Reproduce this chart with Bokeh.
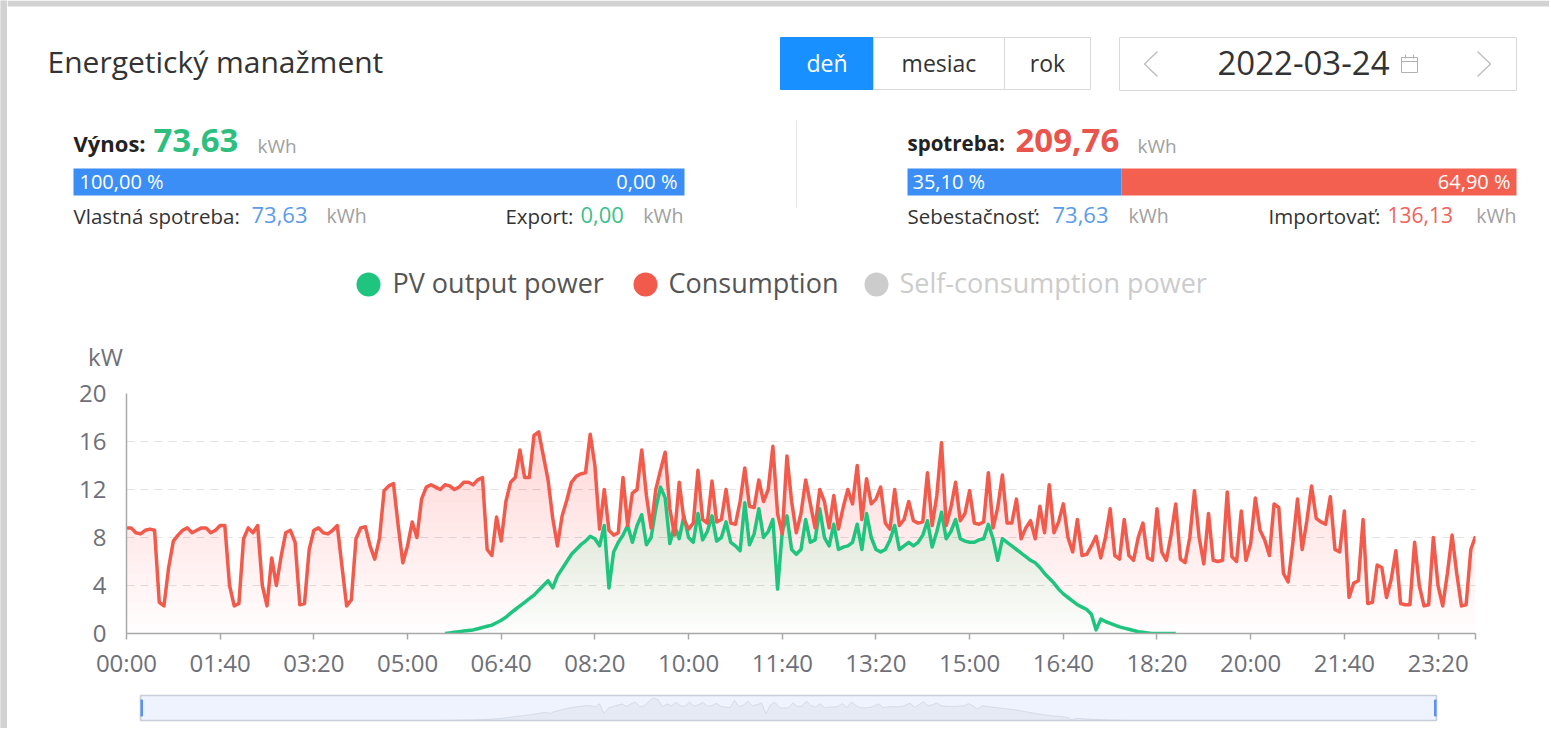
import numpy as np
from bokeh.plotting import figure
from bokeh.layouts import column, row
from bokeh.models import Range1d, FixedTicker
from bokeh.embed import file_html
from bokeh.resources import INLINE
from bokeh.core.properties import value

# ---------------- data ----------------
step_min = 5
minutes = list(range(0, 1441, step_min))  # 00:00 .. 24:00, 5-minute samples

consumption = [
    8.8, 8.8, 8.4, 8.3, 8.6, 8.7, 8.6, 2.6, 2.3, 5.5,
    7.7, 8.2, 8.6, 8.8, 8.4, 8.6, 8.8, 8.8, 8.4, 8.6,
    9.0, 9.0, 4.0, 2.3, 2.5, 7.9, 8.8, 8.4, 9.0, 4.0,
    2.3, 6.3, 4.0, 6.4, 8.4, 8.6, 7.6, 2.4, 2.5, 7.0,
    8.6, 8.8, 8.4, 8.3, 8.6, 9.0, 5.6, 2.3, 2.8, 7.9,
    8.8, 8.9, 7.3, 6.2, 7.9, 11.9, 12.3, 12.5, 9.0, 5.9,
    7.3, 9.3, 8.0, 11.2, 12.2, 12.4, 12.2, 12.0, 12.4, 12.3,
    12.0, 12.2, 12.6, 12.6, 12.4, 12.8, 13.0, 7.0, 6.5, 9.7,
    7.7, 11.0, 12.6, 13.0, 15.3, 13.0, 13.0, 16.5, 16.8, 14.8,
    12.8, 9.6, 7.3, 9.8, 11.1, 12.6, 13.1, 13.3, 13.4, 16.6,
    14.0, 8.7, 12.0, 8.6, 8.2, 8.4, 13.0, 9.0, 11.7, 12.0,
    15.3, 11.5, 8.8, 12.0, 13.6, 15.1, 10.4, 8.2, 12.6, 9.5,
    8.7, 9.2, 13.6, 9.5, 9.2, 12.7, 9.3, 9.5, 12.0, 9.2,
    9.1, 11.0, 13.8, 10.6, 10.5, 12.8, 11.0, 12.0, 15.6, 10.0,
    8.3, 14.8, 11.0, 8.4, 10.0, 12.8, 10.8, 8.8, 12.0, 11.0,
    8.8, 11.5, 8.7, 10.5, 12.0, 10.8, 14.0, 9.5, 12.9, 10.8,
    11.2, 12.2, 9.2, 8.7, 12.0, 9.0, 9.5, 11.0, 9.4, 9.2,
    9.3, 13.4, 9.0, 11.5, 15.9, 9.0, 10.5, 12.6, 9.4, 10.0,
    11.9, 9.2, 9.1, 9.3, 13.4, 8.8, 10.5, 13.2, 9.2, 9.2,
    11.2, 7.9, 8.8, 9.4, 7.9, 10.6, 8.4, 12.4, 8.4, 9.3,
    10.8, 8.0, 6.8, 9.5, 6.5, 6.6, 7.3, 8.1, 6.3, 8.0,
    10.4, 6.5, 6.2, 9.5, 6.5, 6.1, 8.0, 9.2, 6.3, 6.1,
    10.4, 6.8, 6.1, 8.2, 10.8, 6.2, 5.9, 8.0, 11.9, 8.0,
    5.8, 10.0, 6.1, 6.0, 6.1, 11.8, 6.4, 6.0, 10.2, 6.1,
    7.5, 11.3, 8.6, 7.8, 6.5, 10.8, 10.5, 5.0, 4.3, 7.5,
    11.2, 7.0, 9.4, 12.3, 9.6, 9.3, 9.1, 11.4, 7.0, 6.8,
    10.2, 3.0, 4.2, 4.4, 9.5, 2.5, 2.6, 5.7, 5.5, 3.0,
    4.5, 6.9, 2.5, 2.4, 2.4, 7.6, 4.0, 2.3, 2.4, 8.0,
    4.0, 2.3, 5.0, 8.2, 5.0, 2.3, 2.4, 7.0, 8.1,
]

pv_first_index = 68          # PV series starts at 05:40
pv_output = [
    0.0, 0.05, 0.1, 0.15, 0.2, 0.25, 0.3, 0.4, 0.5, 0.6,
    0.7, 0.9, 1.1, 1.35, 1.7, 2.0, 2.3, 2.6, 2.9, 3.2,
    3.6, 4.0, 4.4, 3.8, 4.8, 5.4, 6.0, 6.6, 7.0, 7.4,
    7.7, 8.1, 7.9, 7.3, 9.0, 3.8, 6.8, 7.6, 8.2, 9.0,
    7.6, 9.0, 9.9, 7.4, 8.0, 10.4, 12.2, 11.3, 7.5, 9.0,
    7.9, 9.8, 8.0, 7.6, 10.0, 7.8, 8.5, 9.8, 7.7, 8.0,
    9.3, 7.6, 7.3, 6.9, 10.9, 7.4, 8.3, 10.4, 8.0, 8.5,
    9.5, 3.7, 8.5, 9.8, 7.0, 6.6, 7.0, 9.5, 7.6, 7.8,
    10.4, 8.0, 7.3, 9.1, 7.0, 7.2, 7.3, 7.6, 9.1, 7.0,
    10.0, 8.0, 7.0, 6.8, 7.0, 7.8, 9.0, 7.0, 7.3, 7.6,
    7.3, 7.6, 8.2, 9.4, 7.2, 8.5, 10.1, 7.9, 8.5, 9.5,
    7.9, 7.7, 7.6, 7.6, 7.8, 7.9, 9.1, 7.9, 6.1, 7.9,
    7.6, 7.3, 7.0, 6.7, 6.4, 6.1, 5.9, 5.5, 5.0, 4.6,
    4.2, 3.7, 3.3, 3.0, 2.7, 2.4, 2.2, 2.0, 1.6, 0.3,
    1.2, 1.0, 0.85, 0.7, 0.55, 0.45, 0.35, 0.25, 0.15, 0.1,
    0.05, 0.0, 0.0, 0.0, 0.0, 0.0, 0.0,
]
pv_minutes = minutes[pv_first_index:pv_first_index + len(pv_output)]

x_tick_values = [0, 100, 200, 300, 400, 500, 600, 700, 800, 900, 1000, 1100, 1200, 1300, 1400]
x_tick_labels = ["00:00", "01:40", "03:20", "05:00", "06:40", "08:20", "10:00", "11:40",
                 "13:20", "15:00", "16:40", "18:20", "20:00", "21:40", "23:20"]
y_tick_values = [0, 4, 8, 12, 16, 20]

series_names = ["PV output power", "Consumption", "Self-consumption power"]
series_colors = ["#1fc57f", "#f25a4c", "#cccccc"]
view_buttons = ["deň", "mesiac", "rok"]
selected_date = "2022-03-24"

yield_kwh = 73.63
yield_self_kwh = 73.63
yield_export_kwh = 0.00
cons_kwh = 209.76
cons_self_kwh = 73.63
cons_import_kwh = 136.13

def fmt(v):
    return f"{v:.2f}".replace(".", ",")

FONT = "Open Sans"
RED = "#f25a4c"
GREEN = "#1fc57f"
BLUE_BAR = "#3a8ef6"
FRAME_GRAY = "#d2d2d2"

PAGE_W, PAGE_H = 1549, 728
GUTTER = 7                  # grey strip at the left edge of the page
W = PAGE_W - GUTTER
HDR_H = 375
CH_H = 313
SL_H = PAGE_H - HDR_H - CH_H

# ---------------- left grey strip ----------------
gutter = figure(width=GUTTER, height=PAGE_H, x_range=Range1d(0, 1), y_range=Range1d(0, 1),
                toolbar_location=None, output_backend="svg", min_border=0,
                x_axis_location=None, y_axis_location=None, frame_align=False)
gutter.grid.visible = False
gutter.outline_line_color = None
gutter.background_fill_color = FRAME_GRAY
gutter.border_fill_color = FRAME_GRAY
gutter.quad(left=[0], right=[1], top=[1], bottom=[0], fill_color=FRAME_GRAY, line_color=None)

# ---------------- header figure (page pixel coordinates) ----------------
hdr = figure(width=W, height=HDR_H, x_range=Range1d(GUTTER, PAGE_W), y_range=Range1d(HDR_H, 0),
             toolbar_location=None, output_backend="svg", min_border=0,
             x_axis_location=None, y_axis_location=None, frame_align=False)
hdr.grid.visible = False
hdr.outline_line_color = None
hdr.background_fill_color = "white"
hdr.border_fill_color = "white"
hdr.quad(left=[GUTTER], right=[PAGE_W], top=[0], bottom=[6], fill_color=FRAME_GRAY, line_color=None)

def txt(fig, x, y, s, size, color, align="left", bold=False):
    fig.text(x=[x], y=[y], text=[s], text_font=value(FONT), text_font_size=f"{size}px",
             text_color=color, text_align=align, text_baseline="middle",
             text_font_style="bold" if bold else "normal")

txt(hdr, 47, 61, "Energetický manažment", 30, "#333333")

# view buttons
btn_edges = [780, 873, 1004, 1090]
for k, name in enumerate(view_buttons):
    sel = (k == 0)
    hdr.quad(left=[btn_edges[k]], right=[btn_edges[k + 1]], top=[37], bottom=[89],
             fill_color="#1890ff" if sel else "white",
             line_color="#1890ff" if sel else "#d9d9d9", line_width=1)
    txt(hdr, (btn_edges[k] + btn_edges[k + 1]) / 2, 62, name, 23,
        "white" if sel else "#333333", align="center")

# date picker
hdr.quad(left=[1119], right=[1516], top=[37], bottom=[90], fill_color="white",
         line_color="#d9d9d9", line_width=1)
hdr.multi_line(xs=[[1157, 1144, 1157], [1477, 1490, 1477]], ys=[[51, 63.5, 76], [51, 63.5, 76]],
               line_color="#c0c0c0", line_width=1.5)
txt(hdr, 1303, 62, selected_date, 33, "#333333", align="center")
hdr.quad(left=[1401], right=[1417], top=[57], bottom=[72], fill_color=None,
         line_color="#b0b0b0", line_width=1)
hdr.segment(x0=[1401, 1405, 1413], y0=[61, 54, 54], x1=[1417, 1405, 1413], y1=[61, 58, 58],
            line_color="#b0b0b0", line_width=1)

# separator
hdr.segment(x0=[796], y0=[120], x1=[796], y1=[207], line_color="#e6e6e6", line_width=1)

# left block: yield
txt(hdr, 73, 142, "Výnos:", 22, "#222222", bold=True)
txt(hdr, 153, 140, fmt(yield_kwh), 33, "#2ebf7e", bold=True)
txt(hdr, 257, 145, "kWh", 19, "#a0a0a0")
L0, L1 = 73, 684
frac_self = yield_self_kwh / yield_kwh
hdr.quad(left=[L0], right=[L0 + (L1 - L0) * frac_self], top=[168], bottom=[195],
         fill_color=BLUE_BAR, line_color=None)
txt(hdr, 79, 181, fmt(frac_self * 100) + " %", 20, "white")
txt(hdr, 677, 181, fmt((1 - frac_self) * 100) + " %", 20, "white", align="right")
txt(hdr, 73, 215, "Vlastná spotreba:", 20.5, "#333333")
txt(hdr, 251, 214, fmt(yield_self_kwh), 22, "#5b9bea")
txt(hdr, 326, 215, "kWh", 19.5, "#a0a0a0")
txt(hdr, 573, 215, "Export:", 20.5, "#333333", align="right")
txt(hdr, 580, 214, fmt(yield_export_kwh), 22, "#3cc08a")
txt(hdr, 683, 215, "kWh", 19.5, "#a0a0a0", align="right")

# right block: consumption
txt(hdr, 907, 142, "spotreba:", 20.5, "#222222", bold=True)
txt(hdr, 1015, 140, fmt(cons_kwh), 33, "#e9544c", bold=True)
txt(hdr, 1137, 145, "kWh", 19, "#a0a0a0")
R0, R1 = 907, 1516
frac_c = cons_self_kwh / cons_kwh
split = R0 + (R1 - R0) * frac_c
hdr.quad(left=[R0, split], right=[split, R1], top=[168, 168], bottom=[195, 195],
         fill_color=[BLUE_BAR, "#f4604f"], line_color=None)
txt(hdr, 912, 181, fmt(frac_c * 100) + " %", 20, "white")
txt(hdr, 1510, 181, fmt((1 - frac_c) * 100) + " %", 20, "white", align="right")
txt(hdr, 907, 215, "Sebestačnosť:", 20.5, "#333333")
txt(hdr, 1052, 214, fmt(cons_self_kwh), 22, "#5b9bea")
txt(hdr, 1128, 215, "kWh", 19.5, "#a0a0a0")
txt(hdr, 1380, 215, "Importovať:", 20.5, "#333333", align="right")
txt(hdr, 1387, 214, fmt(cons_import_kwh), 21, "#f0645a")
txt(hdr, 1516, 215, "kWh", 19.5, "#a0a0a0", align="right")

# legend
leg_dot_x = [368, 645, 876]
leg_txt_x = [392, 668, 899]
leg_txt_col = ["#555555", "#555555", "#cccccc"]
hdr.scatter(x=leg_dot_x, y=[284] * 3, size=24, marker="circle",
            fill_color=series_colors, line_color=None)
for k in range(3):
    txt(hdr, leg_txt_x[k], 282, series_names[k], 27, leg_txt_col[k])

# y-axis name
txt(hdr, 105, 356, "kW", 24, "#6e7079", align="center")

# ---------------- chart figure ----------------
ch = figure(width=W, height=CH_H, x_range=Range1d(0, 1440), y_range=Range1d(0, 20),
            toolbar_location=None, output_backend="svg", frame_align=False,
            min_border_left=126 - GUTTER, min_border_right=PAGE_W - 1475,
            min_border_top=18, min_border_bottom=55)
ch.outline_line_color = None
ch.background_fill_color = "white"
ch.border_fill_color = "white"
ch.xgrid.visible = False
ch.ygrid.ticker = FixedTicker(ticks=y_tick_values)
ch.ygrid.grid_line_color = "#e3e3e3"
ch.ygrid.grid_line_dash = "8 6"
ch.ygrid.grid_line_width = 1.2

ch.xaxis.ticker = FixedTicker(ticks=x_tick_values + [1440])
ch.xaxis.major_label_overrides = {t: l for t, l in zip(x_tick_values, x_tick_labels)} | {1440: ""}
ch.yaxis.ticker = FixedTicker(ticks=y_tick_values)
for ax in (ch.xaxis, ch.yaxis):
    ax.axis_line_color = "#a8a8a8"
    ax.axis_line_width = 1.5
    ax.major_label_text_font = FONT
    ax.major_label_text_font_size = "24px"
    ax.major_label_text_color = "#6e7079"
    ax.minor_tick_line_color = None
ch.xaxis.major_tick_line_color = "#a8a8a8"
ch.xaxis.major_tick_line_width = 1.5
ch.xaxis.major_tick_in = 0
ch.xaxis.major_tick_out = 6
ch.xaxis.major_label_standoff = 6
ch.yaxis.major_tick_line_color = None
ch.yaxis.major_label_standoff = 14

cons_arr = np.array(consumption)
pv_arr = np.array(pv_output)

# gradient-like area fills (stacked translucent bands)
n_bands = 20
cmax = cons_arr.max()
for k in range(n_bands):
    lvl = cmax * k / n_bands
    ch.varea(x=minutes, y1=np.full(len(minutes), lvl), y2=np.maximum(cons_arr, lvl),
             fill_color=RED, fill_alpha=0.011)
pmax = pv_arr.max()
for k in range(n_bands):
    lvl = pmax * k / n_bands
    ch.varea(x=pv_minutes, y1=np.full(len(pv_minutes), lvl), y2=np.maximum(pv_arr, lvl),
             fill_color=GREEN, fill_alpha=0.007)

ch.line(pv_minutes, pv_output, line_color=GREEN, line_width=3.5, line_join="round")
ch.line(minutes, consumption, line_color=RED, line_width=3.5, line_join="round")

# ---------------- data-zoom slider ----------------
sl = figure(width=W, height=SL_H, x_range=Range1d(0, 1440), y_range=Range1d(0, 13.5),
            toolbar_location=None, output_backend="svg", frame_align=False,
            min_border_left=140 - GUTTER, min_border_right=PAGE_W - 1436,
            min_border_top=695 - HDR_H - CH_H, min_border_bottom=PAGE_H - 720,
            x_axis_location=None, y_axis_location=None)
sl.grid.visible = False
sl.background_fill_color = "#eef3fe"
sl.border_fill_color = "white"
sl.outline_line_color = "#c7cdd8"
sl.outline_line_width = 1.5
sl.varea(x=pv_minutes, y1=np.zeros(len(pv_minutes)), y2=pv_arr, fill_color="#d5dae6", fill_alpha=0.35)
sl.line(pv_minutes, pv_output, line_color="#c8cfdc", line_width=1, line_alpha=0.6)
sl.rect(x=[0, 1440], y=[6.75, 6.75], width=4, height=16, width_units="screen", height_units="screen",
        fill_color="#5b8ff9", line_color="#5b8ff9")

layout = row(gutter, column(hdr, ch, sl, spacing=0), spacing=0)
open("out.html", "w").write(file_html(layout, INLINE))
